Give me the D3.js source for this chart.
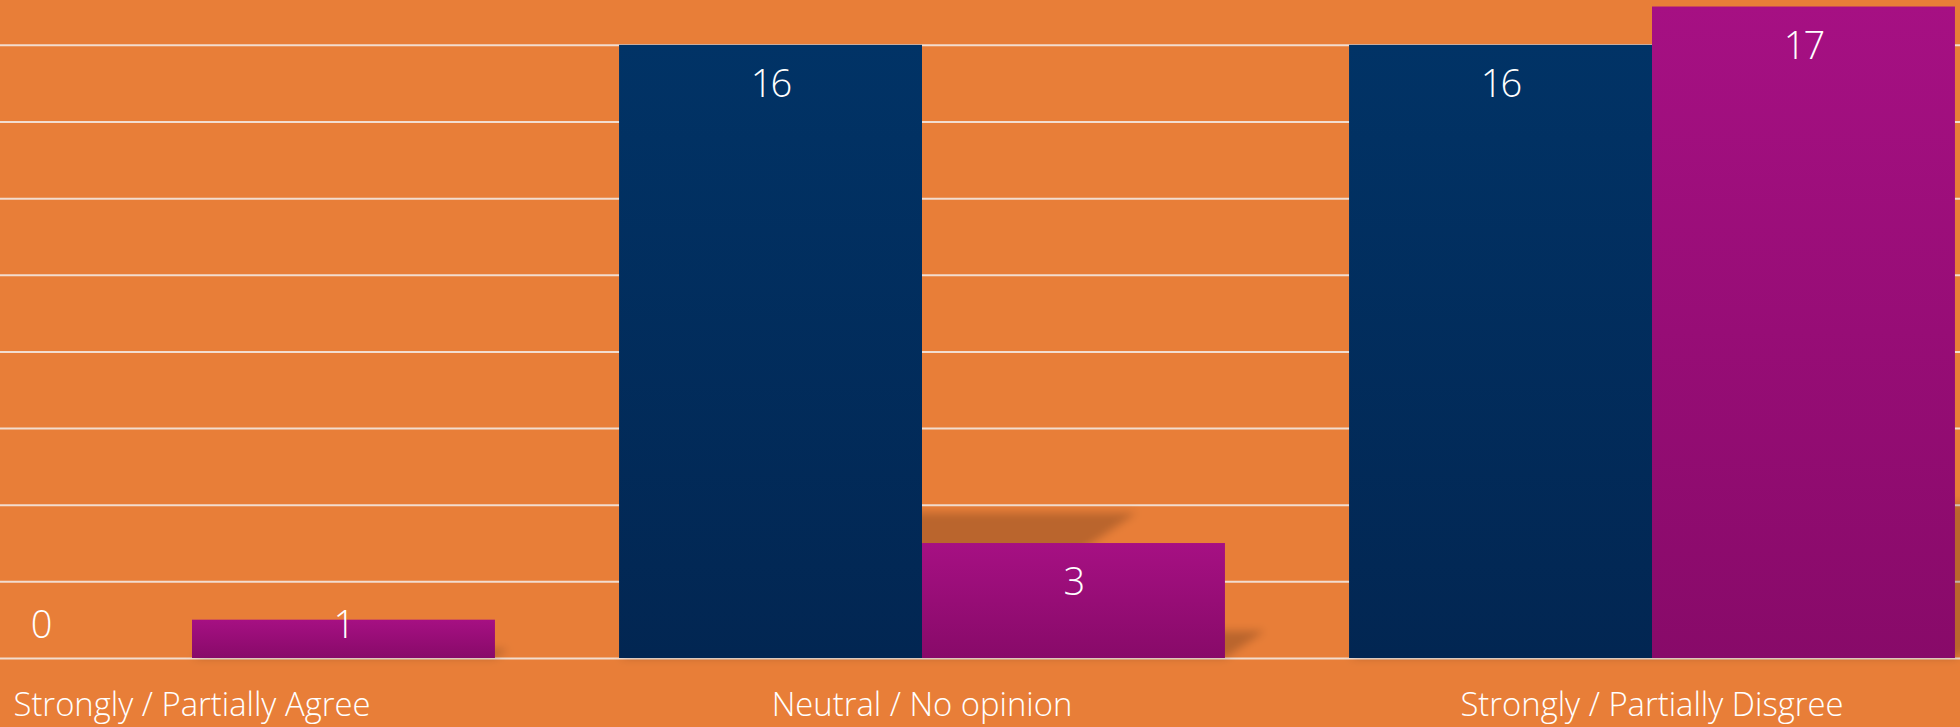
<!DOCTYPE html>
<html>
<head>
<meta charset="utf-8">
<script src="https://cdn.jsdelivr.net/npm/d3@7"></script>
<style>
  html, body { margin: 0; padding: 0; background: #E87E38; overflow: hidden; }
  svg { display: block; }
  text { font-family: "Open Sans", "Noto Sans", sans-serif; font-weight: 300; fill: #ffffff; }
</style>
</head>
<body>
<svg id="chart" width="1960" height="727"></svg>
<script>
const categories = ["Strongly / Partially Agree", "Neutral / No opinion", "Strongly / Partially Disgree"];
const seriesNames = ["Series A", "Series B"];
const seriesA = [0, 16, 16];
const seriesB = [1, 3, 17];
const gridTicks = [0, 2, 4, 6, 8, 10, 12, 14, 16];
const yMax = 17.17;

const W = 1960, H = 727;
const baseY = 658;
const svg = d3.select("#chart");

const defs = svg.append("defs");
const gA = defs.append("linearGradient").attr("id", "gradA").attr("x1", 0).attr("y1", 0).attr("x2", 0).attr("y2", 1);
gA.append("stop").attr("offset", "0%").attr("stop-color", "#013366");
gA.append("stop").attr("offset", "100%").attr("stop-color", "#022652");
const gB = defs.append("linearGradient").attr("id", "gradB").attr("x1", 0).attr("y1", 0).attr("x2", 0).attr("y2", 1);
gB.append("stop").attr("offset", "0%").attr("stop-color", "#A61083");
gB.append("stop").attr("offset", "100%").attr("stop-color", "#880A69");
const blur = defs.append("filter").attr("id", "blur").attr("x", "-20%").attr("y", "-20%").attr("width", "140%").attr("height", "140%");
blur.append("feGaussianBlur").attr("stdDeviation", 4);

svg.append("rect").attr("width", W).attr("height", H).attr("fill", "#E87E38");

const y = d3.scaleLinear().domain([0, yMax]).range([baseY, 0]);
const x = d3.scaleBand().domain(categories).range([-173, 2017]).paddingInner(0.17).paddingOuter(0.085);
const xs = d3.scaleBand().domain(seriesNames).range([0, x.bandwidth()]).padding(0);

// gridlines via axis
const grid = svg.append("g").attr("class", "grid")
  .call(d3.axisLeft(y).tickValues(gridTicks).tickSize(-W).tickFormat(""));
grid.select(".domain").remove();
grid.selectAll(".tick line").attr("stroke", "#F2DDCF").attr("stroke-width", 2).attr("x1", 0).attr("x2", W);

const data = [];
categories.forEach((c, i) => {
  data.push({cat: c, s: seriesNames[0], v: seriesA[i], fill: "url(#gradA)"});
  data.push({cat: c, s: seriesNames[1], v: seriesB[i], fill: "url(#gradB)"});
});

// perspective shadows
const shadows = svg.append("g").attr("filter", "url(#blur)");
shadows.selectAll("polygon").data(data.filter(d => d.v > 0)).join("polygon")
  .attr("fill", "#000").attr("fill-opacity", 0.2)
  .attr("points", d => {
    const x0 = x(d.cat) + xs(d.s), x1 = x0 + xs.bandwidth();
    const h = y(0) - y(d.v);
    const dx = 0.35 * h, dy = 0.237 * h;
    return [[x0, y(0)], [x1, y(0)], [x1 + dx, y(0) - dy], [x0 + dx, y(0) - dy]].map(p => p.join(",")).join(" ");
  });

// bars
svg.append("g").selectAll("rect").data(data).join("rect")
  .attr("x", d => x(d.cat) + xs(d.s))
  .attr("width", xs.bandwidth())
  .attr("y", d => y(d.v))
  .attr("height", d => y(0) - y(d.v))
  .attr("fill", d => d.fill);

// value labels
svg.append("g").selectAll("text").data(data).join("text")
  .attr("x", d => x(d.cat) + xs(d.s) + xs.bandwidth() / 2)
  .attr("y", d => Math.min(y(d.v) + 52, y(0) - 20))
  .attr("text-anchor", "middle")
  .attr("font-size", 38)
  .attr("letter-spacing", -2)
  .text(d => d.v);

// category labels
svg.append("g").selectAll("text").data(categories).join("text")
  .attr("x", d => x(d) + x.bandwidth() / 2)
  .attr("y", 716)
  .attr("text-anchor", "middle")
  .attr("font-size", 32.8)
  .text(d => d);
</script>
</body>
</html>
